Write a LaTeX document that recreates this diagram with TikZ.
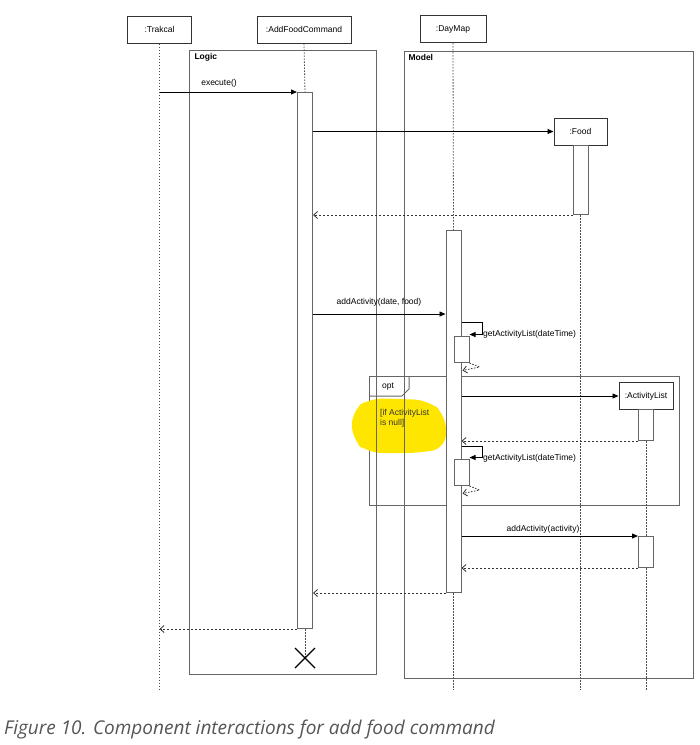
\documentclass[tikz,border=0pt]{standalone}
\usepackage{fontspec}
\setmainfont{Liberation Sans}
\newfontfamily\capfont{Open Sans}
\usetikzlibrary{arrows.meta,calc}
\definecolor{frm}{HTML}{666666}
\definecolor{hl}{HTML}{FFE600}
\definecolor{capc}{HTML}{555555}
\tikzset{
  every node/.style={font=\fontsize{8.5}{10}\selectfont},
  part/.style={draw=black!80,line width=1pt,minimum height=27,inner sep=0pt,fill=white},
  act/.style={draw=frm,line width=1pt,minimum width=15,inner sep=0pt,anchor=north,fill=white},
  life/.style={draw=black!70,line width=0.8pt,dash pattern=on 1.5pt off 1.5pt},
  frame/.style={draw=frm,line width=1pt},
  call/.style={draw=black,line width=0.8pt,-{Triangle[length=6pt,width=5pt]}},
  ret/.style={draw=black!80,line width=0.8pt,dash pattern=on 2pt off 2pt,-{Straight Barb[length=4pt,width=7pt]}},
  lbl/.style={inner sep=1pt},
}
\begin{document}
\begin{tikzpicture}[x=1pt,y=-1pt]
\useasboundingbox (0,0) rectangle (700,745);
% opt frame
\draw[frame] (369,376) rectangle (679,505);
\draw[frame] (369,396) -- (402,396) -- (409,389) -- (409,376);
\node (opt) at (388,386.5) {opt};
% highlight
\fill[hl, rounded corners=14] (352,410) -- (370,398) -- (428,400) -- (446,415) -- (446,448) -- (420,453) -- (368,453) -- (352,440) -- cycle;
% frames
\draw[frame] (189,50) rectangle (376,674);
\node[anchor=west,font=\fontsize{8.5}{10}\selectfont\bfseries] (logic) at (191,57) {Logic};
\draw[frame] (404,51) rectangle (693,678);
\node[anchor=west,font=\fontsize{8.5}{10}\selectfont\bfseries] (model) at (405,57) {Model};
% participants
\node[part,minimum width=64] (trk) at (159.5,29.5) {:Trakcal};
\node[part,minimum width=94] (afc) at (304,29.5) {:AddFoodCommand};
\node[part,minimum width=66] (dm) at (453,29) {:DayMap};
\node[part,minimum width=53] (food) at (580.5,131.5) {:Food};
\node[part,minimum width=54] (al) at (646,396) {:ActivityList};
% activations
\node[act,minimum height=536] (afcact) at (305,92) {};
\node[act,minimum height=69] (foodact) at (580.5,145) {};
\node[act,minimum height=362] (dmact) at (453.5,230) {};
\node[act,minimum height=26] (nest1) at (461.5,336) {};
\node[act,minimum height=31] (alact) at (646,409) {};
\node[act,minimum height=26] (nest2) at (461.5,459) {};
\node[act,minimum height=31] (alact2) at (646,536) {};
% lifelines
\coordinate (endl) at (0,690);
\draw[life] (trk.south) -- (trk.south |- endl);
\draw[life] (afc.south) -- (afcact.north);
\draw[life] (afcact.south) -- ++(0,29) coordinate (xc);
\draw[life] (dm.south) -- (dmact.north);
\draw[life] (dmact.south) -- (dmact.south |- endl);
\draw[life] (foodact.south) -- (foodact.south |- endl);
\draw[life] (alact.south) -- (alact2.north);
\draw[life] (alact2.south) -- (alact2.south |- endl);
% destroy
\draw[line width=1.3pt] ($(xc)+(-10,-10)$) -- ($(xc)+(10,10)$) ($(xc)+(-10,10)$) -- ($(xc)+(10,-10)$);
\node[anchor=north west,align=left,inner sep=0pt,text=black!80] (guard) at (380,409) {[if ActivityList\\is null]};
% messages
\draw[call] (trk.south |- afcact.north) -- (afcact.north west);
\node[lbl] (m0) at (219,83) {execute()};
\draw[call] (afcact.east |- food.west) -- (food.west);
\draw[ret] (foodact.south west) -- (afcact.east |- foodact.south west);
\coordinate (y1) at (0,314);
\draw[call] (afcact.east |- y1) -- (dmact.west |- y1);
\node[lbl] (m1) at (379,302) {addActivity(date, food)};
\draw[call] (dmact.east |- 0,322) -- ++(21,0) |- ($(nest1.north east)+(0,-1.5)$);
\node[lbl,anchor=west] (m2) at (482,334) {getActivityList(dateTime)};
\draw[ret,dash pattern=on 1.5pt off 1.5pt] (nest1.south east) -- ++(10,4) -- ++(-17,3.5);
\coordinate (y2) at (0,396);
\draw[call] (dmact.east |- y2) -- (al.west);
\draw[ret] (alact.south west) -- (dmact.east |- alact.south west);
\draw[call] (dmact.east |- 0,446) -- ++(21,0) |- ($(nest2.north east)+(0,-1.5)$);
\node[lbl,anchor=west] (m3) at (482,458) {getActivityList(dateTime)};
\draw[ret,dash pattern=on 1.5pt off 1.5pt] (nest2.south east) -- ++(10,4) -- ++(-17,3.5);
\draw[call] (dmact.east |- alact2.north west) -- (alact2.north west);
\node[lbl] (m4) at (543,529.5) {addActivity(activity)};
\draw[ret] (alact2.south west) -- (dmact.east |- alact2.south west);
\draw[ret] (dmact.south west) -- (afcact.east |- dmact.south west);
\draw[ret] (afcact.south west) -- (trk.south |- afcact.south west);
% caption
\node[anchor=west,inner sep=0pt,text=capc,font=\capfont\itshape\fontsize{19}{23}\selectfont] (cap) at (4,730) {Figure 10. Component interactions for add food command};
\end{tikzpicture}
\end{document}
